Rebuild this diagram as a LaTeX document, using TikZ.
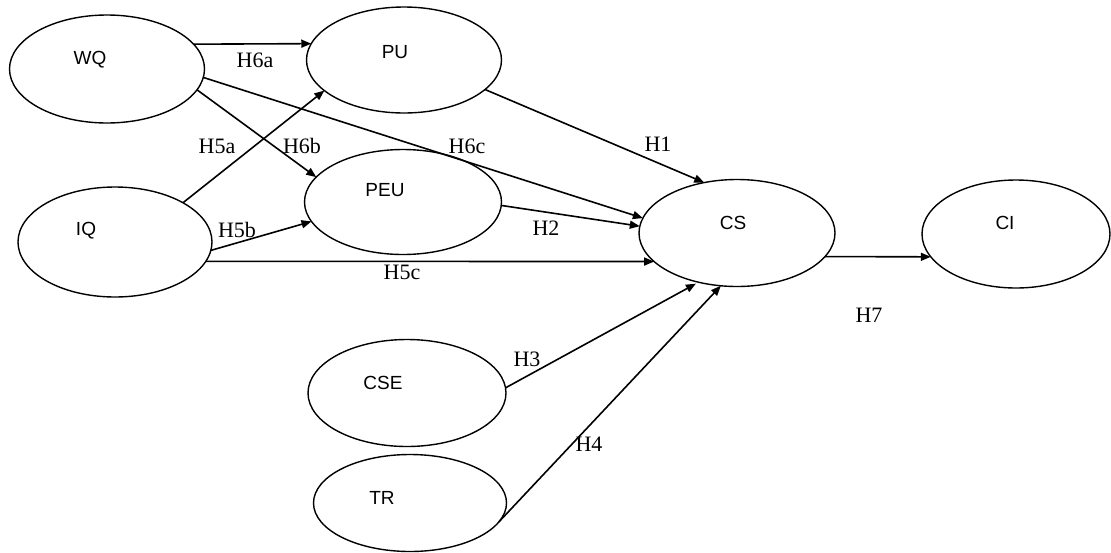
\documentclass[tikz,border=0pt]{standalone}
\usepackage{fontspec}
\setmainfont{Liberation Serif}
\newfontfamily\labfont{Liberation Sans}
\usetikzlibrary{arrows.meta,shapes.geometric}
\begin{document}
\begin{tikzpicture}[x=1pt,y=-1pt,
  ell/.style={draw,ellipse,inner sep=0pt,outer sep=0pt,line width=1.4pt},
  nlab/.style={font=\labfont\fontsize{19}{19}\selectfont,inner sep=0pt},
  hlab/.style={font=\fontsize{22}{22}\selectfont,inner sep=0pt},
  arr/.style={-{Triangle[length=10pt,width=8pt]},line width=1.6pt}]
\useasboundingbox (0,0) rectangle (1111,552);
% ellipses
\node[ell,minimum width=195pt,minimum height=108pt] (WQ)  at (107,69)  {};
\node[ell,minimum width=195pt,minimum height=106pt] (PU)  at (404,60)  {};
\node[ell,minimum width=197pt,minimum height=105pt] (PEU) at (403,202) {};
\node[ell,minimum width=194pt,minimum height=110pt] (IQ)  at (115,242) {};
\node[ell,minimum width=196pt,minimum height=107pt] (CS)  at (737,233) {};
\node[ell,minimum width=188pt,minimum height=108pt] (CI)  at (1016,234) {};
\node[ell,minimum width=198pt,minimum height=107pt] (CSE) at (407,393) {};
\node[ell,minimum width=193pt,minimum height=97pt]  (TR)  at (410,503) {};
% ellipse labels
\node[nlab] (WQt)  at (90,60)   {WQ};
\node[nlab] (PUt)  at (395,52)  {PU};
\node[nlab] (PEUt) at (385,190) {PEU};
\node[nlab] (IQt)  at (86,231)  {IQ};
\node[nlab] (CSt)  at (733,223) {CS};
\node[nlab] (CIt)  at (1005,223) {CI};
\node[nlab] (CSEt) at (383,383) {CSE};
\node[nlab] (TRt)  at (382,498) {TR};
% connectors
\draw[arr] (WQ.16)  -- (PU.170);
\draw[arr] (WQ.-13) -- (PEU.164);
\draw[arr] (WQ.-5)  -- (CS.171);
\draw[arr] (IQ.30)  -- (PU.201);
\draw[arr] (IQ.-5)  -- (PEU.192);
\draw[arr] (IQ.-12) -- (CS.199);
\draw[arr] (PU.-20) -- (CS.123);
\draw[arr] (PEU.-2) -- (CS.176);
\draw[arr,shorten >=3pt] (CSE.3) -- (CS.232);
\draw[arr] (TR.-12) -- (CS.253);
\draw[arr] (CS.-15) -- (CI.195);
% hypothesis labels
\node[hlab] (h6a) at (255,60)  {H6a};
\node[hlab] (h5a) at (217,146) {H5a};
\node[hlab] (h6b) at (302,146) {H6b};
\node[hlab] (h6c) at (467,146) {H6c};
\node[hlab] (h5b) at (237,230) {H5b};
\node[hlab] (h5c) at (402,272) {H5c};
\node[hlab] (h1)  at (658,144) {H1};
\node[hlab] (h2)  at (546,228) {H2};
\node[hlab] (h3)  at (527,359) {H3};
\node[hlab] (h4)  at (589,444) {H4};
\node[hlab] (h7)  at (869,315) {H7};
\end{tikzpicture}
\end{document}
